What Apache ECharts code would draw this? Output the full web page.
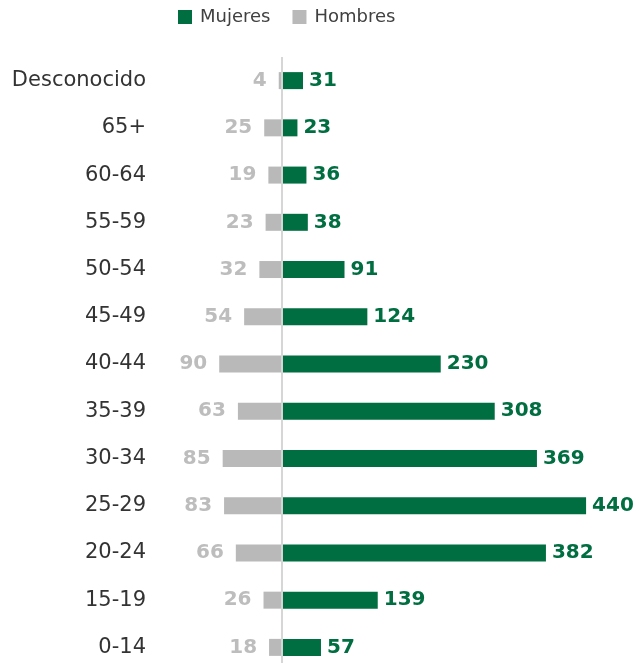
<!DOCTYPE html>
<html>
<head>
<meta charset="utf-8">
<script src="https://cdn.jsdelivr.net/npm/echarts@6/dist/echarts.min.js"></script>
<style>
  html, body { margin: 0; padding: 0; background: #fff; overflow: hidden; }
  #chart { width: 638px; height: 690px; }
</style>
</head>
<body>
<div id="chart"></div>
<script>
// grupos de edad, de arriba hacia abajo
var categorias = ["Desconocido", "65+", "60-64", "55-59", "50-54", "45-49", "40-44",
  "35-39", "30-34", "25-29", "20-24", "15-19", "0-14"];
var mujeres = [31, 23, 36, 38, 91, 124, 230, 308, 369, 440, 382, 139, 57];
var hombres = [4, 25, 19, 23, 32, 54, 90, 63, 85, 83, 66, 26, 18];

var verde = "#006e40";
var gris = "#b9b9b9";
var fuenteNum = "DejaVu Sans";

var chart = echarts.init(document.getElementById("chart"));

var option = {
  animation: false,
  legend: {
    top: 3,
    left: 173,
    itemWidth: 14,
    itemHeight: 14,
    itemGap: 22,
    icon: "rect",
    textStyle: { fontSize: 18, color: "#404040", fontFamily: "DejaVu Sans", padding: [0, 0, 0, 3] },
    data: ["Mujeres", "Hombres"]
  },
  grid: {
    left: 150,
    right: 0,
    top: 57,
    height: 614
  },
  xAxis: {
    type: "value",
    min: -190,
    max: 515,
    show: false,
    splitLine: { show: false }
  },
  yAxis: {
    type: "category",
    inverse: true,
    data: categorias,
    axisLine: { show: false },
    axisTick: { show: false },
    axisLabel: {
      fontSize: 21,
      color: "#333",
      margin: 4,
      fontFamily: "DejaVu Sans"
    }
  },
  series: [
    {
      name: "Mujeres",
      type: "bar",
      stack: "total",
      barWidth: 17,
      data: mujeres,
      itemStyle: { color: verde },
      label: {
        show: true,
        position: "right",
        distance: 6,
        color: verde,
        fontSize: 20,
        fontWeight: "bold",
        fontFamily: fuenteNum
      },
      markLine: {
        silent: true,
        symbol: "none",
        label: { show: false },
        lineStyle: { color: "#d6d6d6", width: 2, type: "solid" },
        data: [{ xAxis: 0 }]
      }
    },
    {
      name: "Hombres",
      type: "bar",
      stack: "total",
      barWidth: 17,
      data: hombres.map(function (v) { return -v; }),
      itemStyle: { color: gris },
      label: {
        show: true,
        position: "left",
        distance: 12,
        color: "#bdbdbd",
        fontSize: 20,
        fontWeight: "bold",
        fontFamily: fuenteNum,
        formatter: function (p) { return Math.abs(p.value); }
      }
    }
  ]
};

chart.setOption(option);
</script>
</body>
</html>
